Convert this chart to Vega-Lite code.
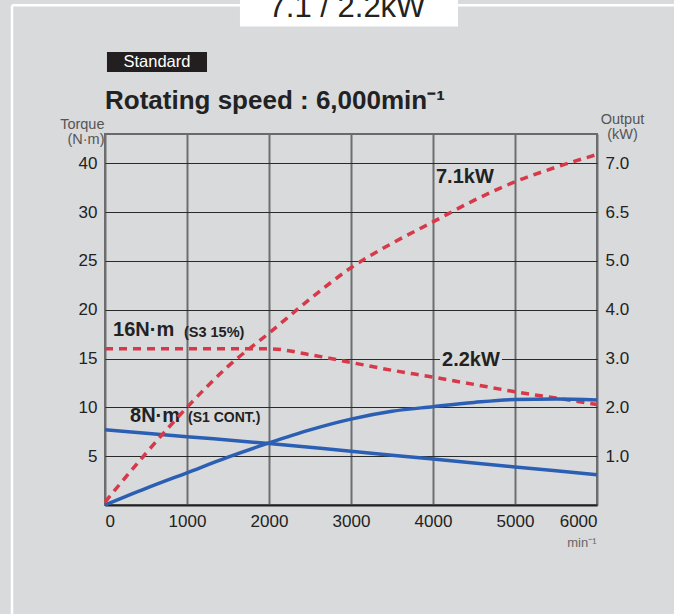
{
  "$schema": "https://vega.github.io/schema/vega-lite/v6.json",
  "width": 492,
  "height": 371,
  "autosize": {"type": "none"},
  "padding": {"left": 105, "top": 134, "right": 77, "bottom": 109},
  "background": "#d9dadc",
  "config": {
    "font": "Liberation Sans",
    "view": {"stroke": "#6a6a6a", "strokeWidth": 2},
    "axis": {"ticks": false, "tickSize": 0, "labelColor": "#222", "labelFontSize": 17, "titleFontWeight": "normal"}
  },
  "title": {
    "text": "Rotating speed : 6,000min⁻¹",
    "anchor": "start",
    "frame": "group",
    "fontSize": 26,
    "fontWeight": "bold",
    "color": "#222",
    "offset": -126
  },
  "datasets": {
    "curves": [
      {"series": "S3 torque", "rpm": 0, "value": 16},
      {"series": "S3 torque", "rpm": 1000, "value": 16},
      {"series": "S3 torque", "rpm": 2000, "value": 16},
      {"series": "S3 torque", "rpm": 2500, "value": 15.4},
      {"series": "S3 torque", "rpm": 3000, "value": 14.6},
      {"series": "S3 torque", "rpm": 3500, "value": 13.8},
      {"series": "S3 torque", "rpm": 4000, "value": 13.1},
      {"series": "S3 torque", "rpm": 4500, "value": 12.35},
      {"series": "S3 torque", "rpm": 5000, "value": 11.6},
      {"series": "S3 torque", "rpm": 5500, "value": 10.95},
      {"series": "S3 torque", "rpm": 6000, "value": 10.3},
      {"series": "S1 torque", "rpm": 0, "value": 7.7},
      {"series": "S1 torque", "rpm": 1000, "value": 7.0},
      {"series": "S1 torque", "rpm": 2000, "value": 6.3},
      {"series": "S1 torque", "rpm": 3000, "value": 5.5},
      {"series": "S1 torque", "rpm": 4000, "value": 4.7},
      {"series": "S1 torque", "rpm": 5000, "value": 3.9},
      {"series": "S1 torque", "rpm": 6000, "value": 3.1},
      {"series": "S3 output", "rpm": 0, "value": 0.3},
      {"series": "S3 output", "rpm": 500, "value": 5.3},
      {"series": "S3 output", "rpm": 1000, "value": 10},
      {"series": "S3 output", "rpm": 1500, "value": 14.2},
      {"series": "S3 output", "rpm": 2000, "value": 17.6},
      {"series": "S3 output", "rpm": 2500, "value": 21.1},
      {"series": "S3 output", "rpm": 3000, "value": 24.3},
      {"series": "S3 output", "rpm": 3500, "value": 26.8},
      {"series": "S3 output", "rpm": 4000, "value": 29.0},
      {"series": "S3 output", "rpm": 4500, "value": 31.2},
      {"series": "S3 output", "rpm": 5000, "value": 33.1},
      {"series": "S3 output", "rpm": 5500, "value": 34.6},
      {"series": "S3 output", "rpm": 6000, "value": 35.9},
      {"series": "S1 output", "rpm": 0, "value": 0},
      {"series": "S1 output", "rpm": 500, "value": 1.7},
      {"series": "S1 output", "rpm": 1000, "value": 3.3},
      {"series": "S1 output", "rpm": 1500, "value": 4.9},
      {"series": "S1 output", "rpm": 2000, "value": 6.36},
      {"series": "S1 output", "rpm": 2500, "value": 7.7},
      {"series": "S1 output", "rpm": 3000, "value": 8.8},
      {"series": "S1 output", "rpm": 3500, "value": 9.6},
      {"series": "S1 output", "rpm": 4000, "value": 10.07},
      {"series": "S1 output", "rpm": 4500, "value": 10.5},
      {"series": "S1 output", "rpm": 5000, "value": 10.8},
      {"series": "S1 output", "rpm": 5500, "value": 10.85},
      {"series": "S1 output", "rpm": 6000, "value": 10.75}
    ]
  },
  "data": {"name": "curves"},
  "layer": [
    {
      "layer": [
        {
          "transform": [{"filter": "datum.series == 'S3 torque'"}],
          "mark": {"type": "line", "color": "#d63a4a", "strokeWidth": 3.5, "strokeDash": [8, 6], "interpolate": "monotone"},
          "encoding": {
            "x": {
              "field": "rpm", "type": "quantitative",
              "scale": {"domain": [0, 6000], "nice": false},
              "axis": {
                "values": [0, 1000, 2000, 3000, 4000, 5000, 6000], "format": "d",
                "grid": true, "gridColor": "#6e6e6e", "gridWidth": 2,
                "labelPadding": 8, "domainColor": "#222", "domainWidth": 2,
                "title": "min⁻¹", "titleFontSize": 13, "titleColor": "#666",
                "titleX": 491, "titleY": 41, "titleAlign": "right", "titleBaseline": "alphabetic"
              }
            },
            "y": {
              "field": "value", "type": "quantitative",
              "scale": {"domain": [0, 38], "nice": false, "zero": false},
              "axis": {
                "values": [5, 10, 15, 20, 25, 30, 35],
                "labelExpr": "datum.value == 35 ? '40' : datum.value + ''",
                "grid": true, "gridColor": "#2a2a2a", "gridWidth": 1.2,
                "domain": false, "labelPadding": 8,
                "title": ["Torque", "(N·m)"], "titleAngle": 0, "titleAlign": "right",
                "titleBaseline": "top", "titleX": -1, "titleY": -17,
                "titleFontSize": 14.5, "titleColor": "#555", "titleLineHeight": 15
              }
            }
          }
        },
        {
          "transform": [{"filter": "datum.series == 'S1 torque'"}],
          "mark": {"type": "line", "color": "#2b5fb4", "strokeWidth": 3.5, "interpolate": "monotone"},
          "encoding": {
            "x": {"field": "rpm", "type": "quantitative"},
            "y": {"field": "value", "type": "quantitative"}
          }
        },
        {
          "data": {"values": [{}]},
          "mark": {"type": "rule", "color": "#ffffff", "strokeWidth": 2.5},
          "encoding": {"x": {"datum": -1134}, "x2": {"datum": 6939}, "y": {"datum": 51.2}}
        },
        {
          "data": {"values": [{}]},
          "mark": {"type": "rule", "color": "#ffffff", "strokeWidth": 2.5},
          "encoding": {"x": {"datum": -1134}, "y": {"datum": 51.2}, "y2": {"datum": -12}}
        },
        {
          "data": {"values": [{}]},
          "mark": {"type": "rect", "color": "#ffffff"},
          "encoding": {"x": {"datum": 1646}, "x2": {"datum": 4305}, "y": {"datum": 53}, "y2": {"datum": 49.0}}
        },
        {
          "data": {"values": [{"label": "7.1 / 2.2kW"}]},
          "mark": {"type": "text", "fontSize": 31, "color": "#222", "align": "center", "baseline": "alphabetic"},
          "encoding": {"x": {"datum": 2951}, "y": {"datum": 50.0}, "text": {"field": "label"}}
        },
        {
          "data": {"values": [{}]},
          "mark": {"type": "rect", "color": "#231f20"},
          "encoding": {"x": {"datum": 24}, "x2": {"datum": 1244}, "y": {"datum": 46.4}, "y2": {"datum": 44.35}}
        },
        {
          "data": {"values": [{"label": "Standard"}]},
          "mark": {"type": "text", "fontSize": 16.5, "color": "#ffffff", "align": "center", "baseline": "middle"},
          "encoding": {"x": {"datum": 634}, "y": {"datum": 45.35}, "text": {"field": "label"}}
        },
        {
          "data": {"values": [{}]},
          "mark": {"type": "rect", "color": "#d9dadc"},
          "encoding": {"x": {"datum": 4085}, "x2": {"datum": 4841}, "y": {"datum": 15.5}, "y2": {"datum": 14.2}}
        },
        {
          "data": {"values": [{"label": "2.2kW"}]},
          "mark": {"type": "text", "fontSize": 20, "fontWeight": "bold", "color": "#222", "align": "center", "baseline": "middle"},
          "encoding": {"x": {"datum": 4463}, "y": {"datum": 14.85}, "text": {"field": "label"}}
        },
        {
          "data": {"values": [{"label": "7.1kW"}]},
          "mark": {"type": "text", "fontSize": 20, "fontWeight": "bold", "color": "#222", "align": "left", "baseline": "middle", "dx": 3},
          "encoding": {"x": {"datum": 4000}, "y": {"datum": 33.6}, "text": {"field": "label"}}
        },
        {
          "data": {"values": [{"label": "16N·m"}]},
          "mark": {"type": "text", "fontSize": 20, "fontWeight": "bold", "color": "#222", "align": "left", "baseline": "middle"},
          "encoding": {"x": {"datum": 98}, "y": {"datum": 17.92}, "text": {"field": "label"}}
        },
        {
          "data": {"values": [{"label": "(S3 15%)"}]},
          "mark": {"type": "text", "fontSize": 14.5, "fontWeight": "bold", "color": "#222", "align": "left", "baseline": "middle"},
          "encoding": {"x": {"datum": 963}, "y": {"datum": 17.6}, "text": {"field": "label"}}
        },
        {
          "data": {"values": [{"label": "8N·m"}]},
          "mark": {"type": "text", "fontSize": 20, "fontWeight": "bold", "color": "#222", "align": "left", "baseline": "middle"},
          "encoding": {"x": {"datum": 305}, "y": {"datum": 9.1}, "text": {"field": "label"}}
        },
        {
          "data": {"values": [{"label": "(S1 CONT.)"}]},
          "mark": {"type": "text", "fontSize": 14, "fontWeight": "bold", "color": "#222", "align": "left", "baseline": "middle"},
          "encoding": {"x": {"datum": 1012}, "y": {"datum": 8.9}, "text": {"field": "label"}}
        }
      ]
    },
    {
      "layer": [
        {
          "transform": [{"filter": "datum.series == 'S1 output'"}],
          "mark": {"type": "line", "color": "#2b5fb4", "strokeWidth": 3.5, "interpolate": "monotone"},
          "encoding": {
            "x": {"field": "rpm", "type": "quantitative"},
            "y": {
              "field": "value", "type": "quantitative",
              "scale": {"domain": [0, 38], "nice": false, "zero": false},
              "axis": {
                "orient": "right",
                "values": [5, 10, 15, 20, 25, 30, 35],
                "labelExpr": "datum.value == 35 ? '7.0' : datum.value == 30 ? '6.5' : format(datum.value / 5, '.1f')",
                "grid": false, "domain": false, "labelPadding": 8,
                "title": ["Output", "(kW)"], "titleAngle": 0, "titleAlign": "center",
                "titleBaseline": "top", "titleX": 25, "titleY": -22,
                "titleFontSize": 14.5, "titleColor": "#555", "titleLineHeight": 15
              }
            }
          }
        },
        {
          "transform": [{"filter": "datum.series == 'S3 output'"}],
          "mark": {"type": "line", "color": "#d63a4a", "strokeWidth": 3.5, "strokeDash": [8, 6], "interpolate": "monotone"},
          "encoding": {
            "x": {"field": "rpm", "type": "quantitative"},
            "y": {"field": "value", "type": "quantitative"}
          }
        }
      ]
    }
  ],
  "resolve": {"scale": {"y": "independent"}}
}
